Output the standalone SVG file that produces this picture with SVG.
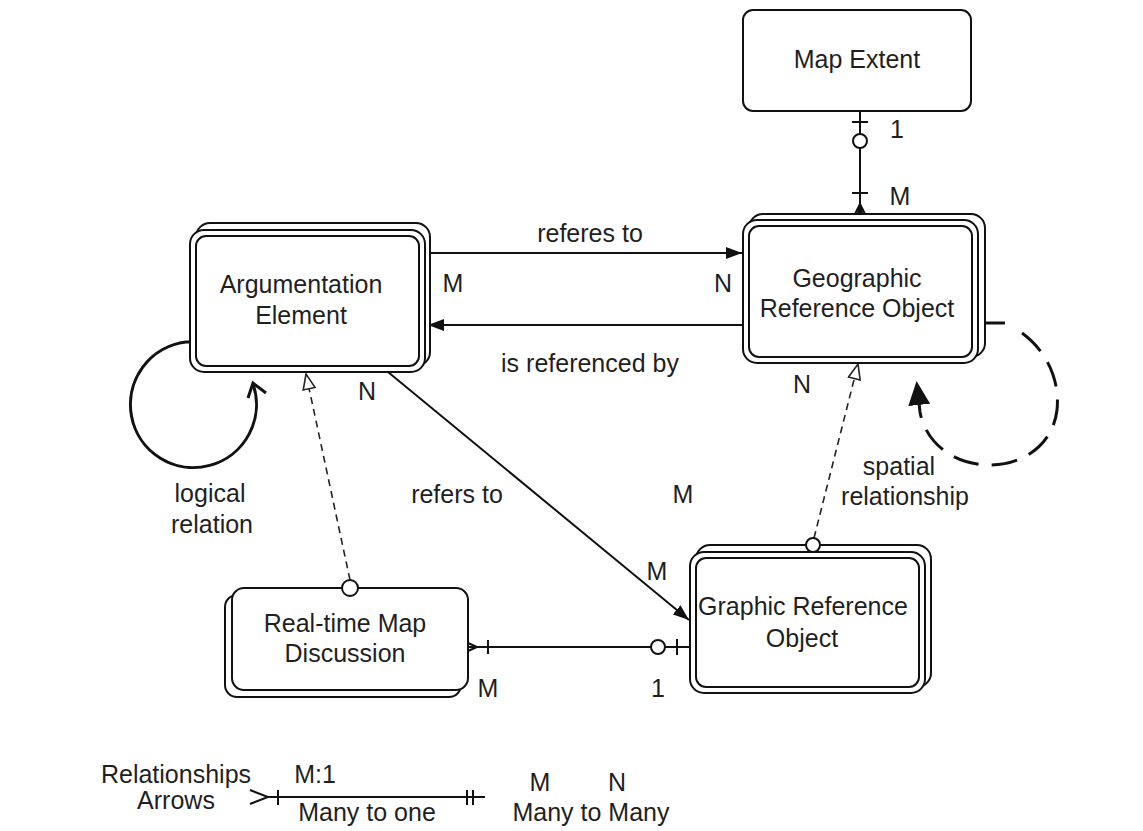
<svg xmlns="http://www.w3.org/2000/svg" width="1143" height="831" viewBox="0 0 1143 831">
<defs>
<style>
text{font-family:"Liberation Sans",Arial,sans-serif;font-size:25px;fill:#1f1f1f;text-anchor:middle}
.box{fill:#fff;stroke:#111;stroke-width:2}
.in{fill:none;stroke:#111;stroke-width:2}
.ln{fill:none;stroke:#111;stroke-width:2}
.dash{fill:none;stroke:#222;stroke-width:1.6;stroke-dasharray:7 5}
.sym{fill:#fff;stroke:#111;stroke-width:2}
</style>
<marker id="fa" viewBox="0 0 16 12" refX="16" refY="6" markerWidth="16" markerHeight="12" markerUnits="userSpaceOnUse" orient="auto"><path d="M0,0 L16,6 L0,12 z" fill="#111"/></marker>
<marker id="ha" viewBox="0 0 18 14" refX="16" refY="7" markerWidth="18" markerHeight="14" markerUnits="userSpaceOnUse" orient="auto"><path d="M1,1 L16,7 L1,13 z" fill="#fff" stroke="#222" stroke-width="1.6"/></marker>
<marker id="big" viewBox="0 0 24 22" refX="20" refY="11" markerWidth="24" markerHeight="22" markerUnits="userSpaceOnUse" orient="auto"><path d="M0,0 L24,11 L0,22 z" fill="#111"/></marker>
</defs>
<rect width="1143" height="831" fill="#fff"/>

<g id="connectors">
<!-- Map Extent to Geographic -->
<line class="ln" x1="860" y1="111" x2="860" y2="214"/>
<line class="ln" x1="852" y1="122" x2="868" y2="122"/>
<circle class="sym" cx="860" cy="141" r="7"/>
<line class="ln" x1="852" y1="193" x2="868" y2="193"/>
<path class="ln" d="M853,218 L860,204 L867,218 M856,218 L860,208 L864,218" stroke-width="1.5"/>
<!-- referes to / is referenced by -->
<line class="ln" x1="425" y1="253" x2="742" y2="253" marker-end="url(#fa)"/>
<line class="ln" x1="743" y1="325" x2="428" y2="325" marker-end="url(#fa)"/>
<!-- refers to diagonal -->
<line class="ln" x1="388" y1="372" x2="689" y2="620" marker-end="url(#fa)"/>
<!-- dashed inheritance lines -->
<line class="dash" x1="350" y1="580" x2="306" y2="374" marker-end="url(#ha)"/>
<line class="dash" x1="814" y1="538" x2="858" y2="364" marker-end="url(#ha)"/>
<!-- Real-time to Graphic -->
<line class="ln" x1="468" y1="647" x2="690" y2="647"/>
<path class="ln" d="M468,643 L477,647 L468,651" stroke-width="1.5"/>
<line class="ln" x1="488" y1="640" x2="488" y2="654"/>
<circle class="sym" cx="658" cy="647" r="7"/>
<line class="ln" x1="677" y1="639" x2="677" y2="655"/>
<!-- logical relation loop -->
<path d="M190,342 H186 A63,63 0 1 0 253,384" fill="none" stroke="#111" stroke-width="3"/>
<path d="M248,398 L253,383 L266,393" fill="none" stroke="#111" stroke-width="3"/>
<!-- spatial relationship loop -->
<line x1="985" y1="323" x2="1005" y2="323" stroke="#111" stroke-width="3"/>
<path d="M1022,333 C1048,352 1060,382 1057,410 C1053,445 1022,466 988,465 C950,464 925,440 920,412 L917,385" fill="none" stroke="#111" stroke-width="3" stroke-dasharray="26 13" marker-end="url(#big)"/>
</g>

<g id="map-extent">
<rect class="box" x="743" y="10" width="228" height="101" rx="10"/>
<text x="857" y="68">Map Extent</text>
</g>

<g id="argumentation-element">
<rect class="box" x="196" y="223" width="234" height="143" rx="14"/>
<rect class="box" x="190" y="230" width="235" height="142" rx="14"/>
<rect class="in" x="196" y="236" width="223" height="130" rx="10"/>
<text x="301" y="293">Argumentation</text>
<text x="301" y="324">Element</text>
</g>

<g id="geographic-reference-object">
<rect class="box" x="749" y="214" width="236" height="143" rx="14"/>
<rect class="box" x="743" y="220" width="235" height="143" rx="14"/>
<rect class="in" x="749" y="226" width="223" height="131" rx="10"/>
<text x="857" y="287">Geographic</text>
<text x="857" y="317">Reference Object</text>
</g>

<g id="graphic-reference-object">
<rect class="box" x="696" y="545" width="235" height="142" rx="14"/>
<rect class="box" x="690" y="552" width="235" height="141" rx="14"/>
<rect class="in" x="696" y="558" width="223" height="129" rx="10"/>
<circle class="sym" cx="813" cy="545" r="7"/>
<text x="803" y="615">Graphic Reference</text>
<text x="802" y="647">Object</text>
</g>

<g id="real-time-map-discussion">
<rect class="box" x="225" y="595" width="236" height="102" rx="12"/>
<rect class="box" x="232" y="588" width="236" height="102" rx="12"/>
<circle class="sym" cx="350" cy="588" r="8"/>
<text x="345" y="632">Real-time Map</text>
<text x="345" y="662">Discussion</text>
</g>

<g id="labels">
<text x="897" y="138">1</text>
<text x="900" y="205">M</text>
<text x="590" y="242">referes to</text>
<text x="453" y="292">M</text>
<text x="723" y="292">N</text>
<text x="590" y="372">is referenced by</text>
<text x="367" y="400">N</text>
<text x="802" y="393">N</text>
<text x="210" y="502">logical</text>
<text x="212" y="533">relation</text>
<text x="457" y="503">refers to</text>
<text x="683" y="503">M</text>
<text x="657" y="580">M</text>
<text x="899" y="475">spatial</text>
<text x="905" y="505">relationship</text>
<text x="488" y="697">M</text>
<text x="658" y="697">1</text>
</g>

<g id="legend">
<text x="176" y="783">Relationships</text>
<text x="176" y="809">Arrows</text>
<text x="315" y="783">M:1</text>
<path d="M250,790 L268,797 L250,804" fill="none" stroke="#111" stroke-width="2"/>
<line x1="268" y1="797" x2="485" y2="797" stroke="#111" stroke-width="2"/>
<line x1="278" y1="790" x2="278" y2="805" stroke="#111" stroke-width="2"/>
<line x1="467" y1="790" x2="467" y2="805" stroke="#111" stroke-width="2"/>
<line x1="473" y1="790" x2="473" y2="805" stroke="#111" stroke-width="2"/>
<text x="367" y="821">Many to one</text>
<text x="540" y="791">M</text>
<text x="617" y="791">N</text>
<text x="591" y="821">Many to Many</text>
</g>
</svg>
